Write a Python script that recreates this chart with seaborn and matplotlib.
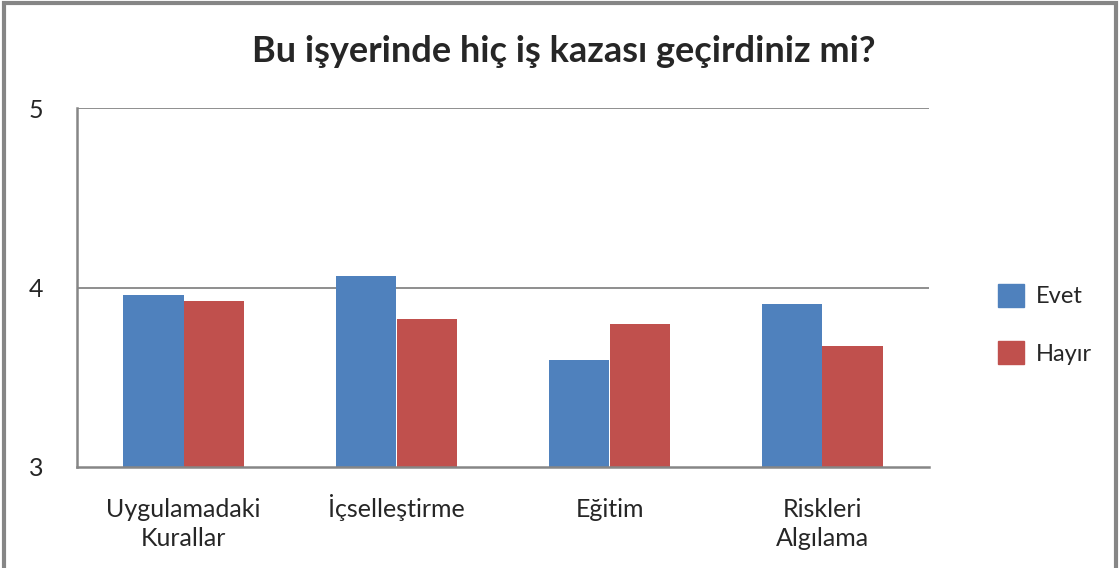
import pandas as pd
import matplotlib
matplotlib.use("Agg")
import matplotlib.pyplot as plt
import matplotlib.patches as mpatches
import matplotlib.transforms as mtransforms
import seaborn as sns

categories = ["Uygulamadaki\nKurallar", "İçselleştirme", "Eğitim", "Riskleri\nAlgılama"]
series = ["Evet", "Hayır"]
evet = [3.957, 4.063, 3.594, 3.907]
hayir = [3.923, 3.823, 3.795, 3.672]
y_ticks = [3, 4, 5]
title = "Bu işyerinde hiç iş kazası geçirdiniz mi?"

colors = ["#4F81BD", "#C0504D"]
grey = "#868686"

df = pd.DataFrame({
    "kategori": categories * 2,
    "grup": [series[0]] * len(evet) + [series[1]] * len(hayir),
    "deger": evet + hayir,
})

sns.set_style("white")
plt.rcParams["font.family"] = ["Lato", "DejaVu Sans"]

fig = plt.figure(figsize=(11.2, 5.68), dpi=100)
ax = fig.add_axes([77 / 1120, 1 - 467 / 568, 852 / 1120, 359 / 568])

sns.barplot(data=df, x="kategori", y="deger", hue="grup", palette=colors,
            width=0.57, gap=0, saturation=1, order=categories, hue_order=series,
            linewidth=0, ax=ax, legend=False)

# bars start at 3 (axis minimum), not 0
ax.set_ylim(3, 5)
ax.set_xlim(-0.5, 3.5)
ax.set_yticks(y_ticks)
ax.set_yticklabels([str(t) for t in y_ticks], fontsize=18)
ax.set_xticks(range(len(categories)))
ax.set_xticklabels(categories, fontsize=18, linespacing=1.35)
ax.set_xticks([i - 0.5 for i in range(len(categories) + 1)], minor=True)
ax.tick_params(axis="x", which="major", length=0, pad=22)
ax.tick_params(axis="x", which="minor", length=8, width=1.2, color=grey, direction="out")
ax.tick_params(axis="y", which="major", length=6, width=1.2, color=grey, direction="out", pad=18)
ax.set_xlabel("")
ax.set_ylabel("")

# the dotted capital I pushes this label down, lift it to line up with the others
lbl = ax.get_xticklabels()[1]
lbl.set_transform(lbl.get_transform() + mtransforms.ScaledTranslation(0, 2.5 / 72, fig.dpi_scale_trans))

ax.grid(False)
for t in [4, 5]:
    ax.axhline(t, color=grey, lw=1.3, zorder=0)

for side in ["top", "right"]:
    ax.spines[side].set_visible(False)
for side in ["left", "bottom"]:
    ax.spines[side].set_color(grey)
    ax.spines[side].set_linewidth(1.8)

fig.text(0.503, 0.91, title, ha="center", va="center", fontsize=26, fontweight="bold")

handles = [mpatches.Patch(color=c, label=s) for c, s in zip(colors, series)]
fig.legend(handles=handles, loc="center left", bbox_to_anchor=(0.872, 0.429),
           frameon=False, fontsize=17, handlelength=1.1, handleheight=1.1,
           handletextpad=0.5, labelspacing=1.45)

# outer chart frame
fig.patches.append(mpatches.Rectangle((0.004, -0.01), 0.992, 1.005, transform=fig.transFigure,
                                      fill=False, edgecolor=grey, lw=3))

fig.savefig("out.png", dpi=100)
